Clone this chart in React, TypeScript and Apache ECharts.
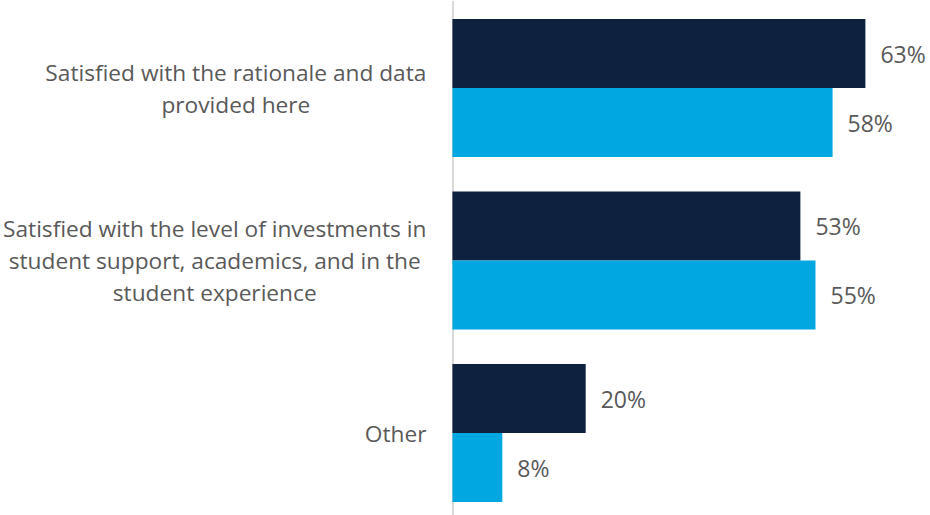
import React, { useEffect, useRef } from "react";
import * as echarts from "echarts";

const categories = [
  "Satisfied with the rationale and data\nprovided here",
  "Satisfied with the level of investments in\nstudent support, academics, and in the\nstudent experience",
  "Other",
];
const seriesDark = [62.9, 53.0, 20.3];
const seriesLight = [57.9, 55.3, 7.6];

export default function App() {
  const ref = useRef<HTMLDivElement>(null);
  useEffect(() => {
    if (!ref.current) return;
    const chart = echarts.init(ref.current, undefined, { renderer: "svg" });
    const font = "'Open Sans', 'Noto Sans', sans-serif";
    const labelCommon = {
      show: true,
      position: "right",
      distance: 15,
      color: "#595959",
      fontSize: 23,
      fontFamily: font,
      formatter: (p: any) => Math.round(p.value) + "%",
    };
    chart.setOption({
      animation: false,
      backgroundColor: "#ffffff",
      grid: { left: 449, top: 1.75, width: 463, height: 517.5 },
      xAxis: {
        type: "value",
        min: 0,
        max: 70,
        show: false,
        splitLine: { show: false },
      },
      yAxis: {
        type: "category",
        data: categories,
        inverse: true,
        axisLine: { show: true, lineStyle: { color: "#D9D9D9", width: 2 } },
        axisTick: { show: false },
        axisLabel: {
          margin: 26,
          color: "#595959",
          fontSize: 22.7,
          fontFamily: font,
          lineHeight: 32,
          formatter: (v: string) =>
            v
              .split("\n")
              .map((l) => "{c|" + l + "}")
              .join("\n"),
          rich: {
            c: {
              align: "center",
              color: "#595959",
              fontSize: 22.7,
              fontFamily: font,
              lineHeight: 32,
            },
          },
        },
      },
      series: [
        {
          type: "bar",
          data: seriesDark,
          barGap: "0%",
          barCategoryGap: "20%",
          itemStyle: { color: "#0E2240" },
          label: labelCommon,
        },
        {
          type: "bar",
          data: seriesLight,
          barGap: "0%",
          barCategoryGap: "20%",
          itemStyle: { color: "#00A7E1" },
          label: labelCommon,
        },
      ],
    });
    return () => chart.dispose();
  }, []);
  return (
    <div
      ref={ref}
      style={{ position: "fixed", left: 0, top: 0, width: 930, height: 525 }}
    />
  );
}
